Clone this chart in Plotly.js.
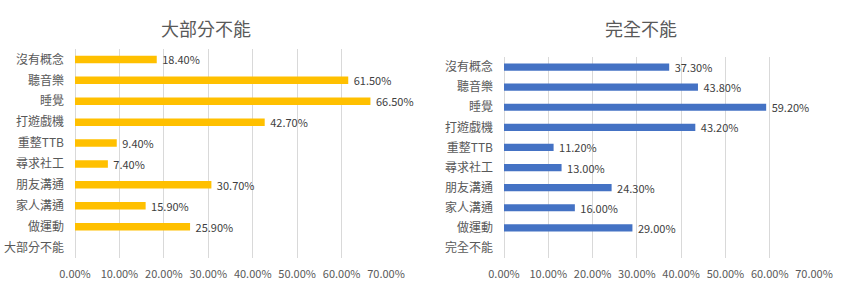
<!DOCTYPE html>
<html><head><meta charset="utf-8">
<script src="https://cdn.plot.ly/plotly-3.0.1.min.js"></script>
<style>html,body{margin:0;padding:0;background:#fff}</style>
</head><body><div id="chart" style="width:846px;height:293px"></div>
<script>
const categoriesLeft = ['沒有概念','聽音樂','睡覺','打遊戲機','重整TTB','尋求社工','朋友溝通','家人溝通','做運動','大部分不能'];
const valuesLeft = [0.184, 0.615, 0.665, 0.427, 0.094, 0.074, 0.307, 0.159, 0.259, null];
const categoriesRight = ['沒有概念','聽音樂','睡覺','打遊戲機','重整TTB','尋求社工','朋友溝通','家人溝通','做運動','完全不能'];
const valuesRight = [0.373, 0.438, 0.592, 0.432, 0.112, 0.130, 0.243, 0.160, 0.290, null];
const titleLeft = '大部分不能';
const titleRight = '完全不能';
const xTicks = [0, 0.1, 0.2, 0.3, 0.4, 0.5, 0.6, 0.7];

const FONT = '"Noto Sans CJK TC", "Noto Sans", sans-serif';
const barCommon = {
  type: 'bar', orientation: 'h',
  texttemplate: '\u00a0%{x:.2%}', textposition: 'outside',
  constraintext: 'none', cliponaxis: false,
  textfont: {family: FONT, size: 11, color: '#404040'},
  hoverinfo: 'skip'
};
const traces = [
  Object.assign({}, barCommon, {x: valuesLeft, y: categoriesLeft, xaxis: 'x', yaxis: 'y', marker: {color: '#FFC000'}}),
  Object.assign({}, barCommon, {x: valuesRight, y: categoriesRight, xaxis: 'x2', yaxis: 'y2', marker: {color: '#4472C4'}})
];
function xax(domain, anchor) {
  return {domain: domain, anchor: anchor, range: [0, 0.7], tickvals: xTicks, tickformat: '.2%',
    showgrid: true, gridcolor: '#d9d9d9', gridwidth: 1, zeroline: true, zerolinecolor: '#d9d9d9', zerolinewidth: 1,
    showline: false, ticks: '', ticklabelstandoff: 8,
    tickfont: {family: FONT, size: 11, color: '#595959'}, fixedrange: true};
}
function yax(domain, anchor, cats) {
  return {domain: domain, anchor: anchor, type: 'category', categoryorder: 'array', categoryarray: cats,
    autorange: 'reversed', showgrid: false, zeroline: false, showline: false, ticks: '', ticklabelstandoff: 10,
    tickfont: {family: FONT, size: 12, color: '#595959'}, fixedrange: true};
}
const layout = {
  width: 846, height: 293,
  margin: {l: 0, r: 0, t: 0, b: 0},
  paper_bgcolor: '#fff', plot_bgcolor: '#fff',
  showlegend: false, bargap: 0.64,
  font: {family: FONT},
  xaxis: xax([75/846, 386/846], 'y'),
  yaxis: yax([35/293, 244/293], 'x', categoriesLeft),
  xaxis2: xax([504/846, 814/846], 'y2'),
  yaxis2: yax([35/293, 236/293], 'x2', categoriesRight),
  annotations: [
    {text: titleLeft, xref: 'paper', yref: 'paper', x: 206/846, y: 1 - 28/293, xanchor: 'center', yanchor: 'middle', showarrow: false,
     font: {family: FONT, size: 18, color: '#595959'}},
    {text: titleRight, xref: 'paper', yref: 'paper', x: 641/846, y: 1 - 28/293, xanchor: 'center', yanchor: 'middle', showarrow: false,
     font: {family: FONT, size: 18, color: '#595959'}}
  ]
};
Plotly.newPlot('chart', traces, layout, {staticPlot: true, displayModeBar: false});
</script></body></html>
